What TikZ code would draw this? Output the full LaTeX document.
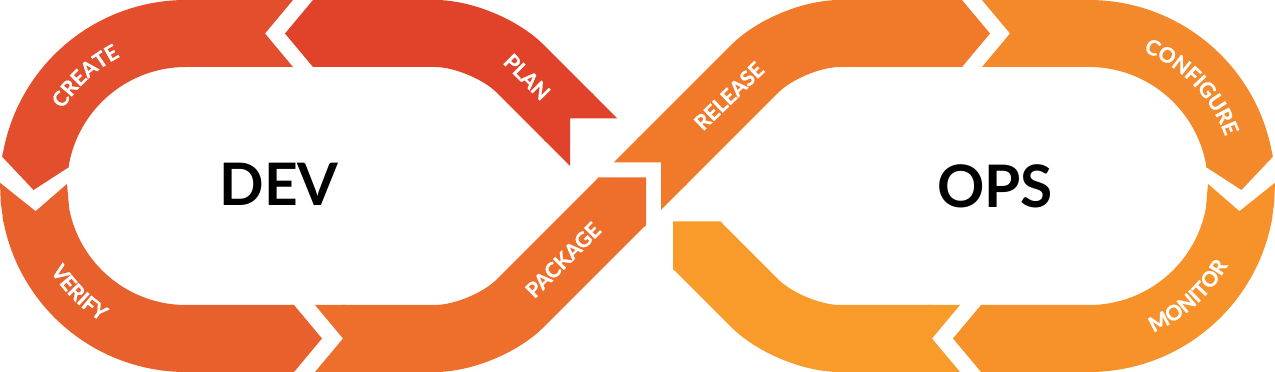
\documentclass[tikz,border=0pt]{standalone}
\usepackage{fontspec}
\setmainfont{Lato}
\newfontfamily\lblfam{Lato}[BoldFeatures={FakeBold=0.8}]
\usetikzlibrary{decorations.text}
\definecolor{cplan}{HTML}{E0432A}
\definecolor{ccreate}{HTML}{E34F2D}
\definecolor{cverify}{HTML}{E8602C}
\definecolor{cpackage}{HTML}{EE6E2B}
\definecolor{crelease}{HTML}{F07A2A}
\definecolor{cconfig}{HTML}{F3892B}
\definecolor{cmonitor}{HTML}{F7922A}
\definecolor{cother}{HTML}{F99B2A}
\newcommand\lblfont{\lblfam\fontsize{21}{21}\selectfont\bfseries\color{white}}
\tikzset{
  band/.style={line width=67pt},
  lbl/.style={text=white, inner sep=0pt, font=\lblfam\fontsize{21}{21}\selectfont\bfseries},
  big/.style={text=black, inner sep=0pt, font=\fontsize{58.6}{60}\selectfont\bfseries},
  curved/.style={decorate, decoration={text along path, text align=center, text={|\lblfont|#1}}}
}
\begin{document}
\begin{tikzpicture}[x=1pt, y=1pt]
\useasboundingbox (0,0) rectangle (1275,372);

% OTHER (unlabeled, bottom right)
\fill[cother] (960,0) -- (932,33.5) -- (960,67) -- (929,67) -- (929,0) -- cycle;
\draw[band, cother, rounded corners=49.7pt] (932,33.5) -- (790,33.5) -- (696.7,126.8);
\fill[cother] (675.1,101) -- (673,103.1) -- (673,150.5) -- (720.4,150.5) -- (722.5,148.4) -- cycle;

% PLAN
\fill[cplan] (570,206.1) -- (570,253.5) -- (617.4,253.5) -- (591.6,279.3) -- (544.2,231.9) -- cycle;
\draw[band, cplan, rounded corners=49.7pt] (570,253.5) -- (485,338.5) -- (313,338.5);
\fill[cplan] (316,372) -- (313,372) -- (285,338.5) -- (313,305) -- (316,305) -- cycle;

% CREATE
\fill[ccreate] (293,305) -- (265,338.5) -- (293,372) -- (262,372) -- (262,305) -- cycle;
\draw[band, ccreate] (265,338.5) -- (186,338.5) arc[start angle=90, end angle=171, radius=152.5];
\fill[ccreate] ([shift={(186,186)}]169.5:186) -- ([shift={(186,186)}]171:186) -- ([shift={(186,186)}]181.5:152.5) -- ([shift={(186,186)}]171:119) -- ([shift={(186,186)}]169.5:119) -- cycle;

% VERIFY
\fill[cverify] ([shift={(186,186)}]179:186) -- ([shift={(186,186)}]189.5:152.5) -- ([shift={(186,186)}]179:119) -- ([shift={(186,186)}]191:119) -- ([shift={(186,186)}]191:186) -- ([shift={(186,186)}]185:186) -- cycle;
\draw[band, cverify] ([shift={(186,186)}]189.5:152.5) arc[start angle=189.5, end angle=270, radius=152.5] -- (294,33.5);
\fill[cverify] (291,0) -- (294,0) -- (322,33.5) -- (294,67) -- (291,67) -- cycle;

% CONFIGURE
\fill[cconfig] (982,372) -- (1010,338.5) -- (982,305) -- (1013,305) -- (1013,372) -- cycle;
\draw[band, cconfig] (1010,338.5) -- (1089,338.5) arc[start angle=90, end angle=9, radius=152.5];
\fill[cconfig] ([shift={(1089,186)}]10.5:186) -- ([shift={(1089,186)}]9:186) -- ([shift={(1089,186)}]-1.5:152.5) -- ([shift={(1089,186)}]9:119) -- ([shift={(1089,186)}]10.5:119) -- cycle;

% MONITOR
\fill[cmonitor] ([shift={(1089,186)}]1:186) -- ([shift={(1089,186)}]-9.5:152.5) -- ([shift={(1089,186)}]1:119) -- ([shift={(1089,186)}]-11:119) -- ([shift={(1089,186)}]-11:186) -- ([shift={(1089,186)}]-5:186) -- cycle;
\draw[band, cmonitor] ([shift={(1089,186)}]-9.5:152.5) arc[start angle=-9.5, end angle=-90, radius=152.5] -- (981,33.5);
\fill[cmonitor] (984,0) -- (981,0) -- (953,33.5) -- (981,67) -- (984,67) -- cycle;

% PACKAGE
\fill[cpackage] (315,0) -- (343,33.5) -- (315,67) -- (346,67) -- (346,0) -- cycle;
\draw[band, cpackage, rounded corners=49.7pt] (343,33.5) -- (485,33.5) -- (622.3,170.8);
\fill[cpackage] (596.5,192.4) -- (598.6,194.5) -- (646,194.5) -- (646,147.1) -- (643.9,145) -- cycle;

% RELEASE
\fill[crelease] (613.6,209.5) -- (661,209.5) -- (661,162.1) -- (686.8,187.9) -- (639.4,235.3) -- cycle;
\draw[band, crelease, rounded corners=49.7pt] (661,209.5) -- (790,338.5) -- (962,338.5);
\fill[crelease] (959,372) -- (962,372) -- (990,338.5) -- (962,305) -- (959,305) -- cycle;

% labels
\node[big] (dev) at (279,188) {DEV};
\node[big] (ops) at (995,185.5) {OPS};
\node[lbl, rotate=-45] (plan) at (527,295) {PLAN};
\node[lbl, rotate=45] (package) at (563,112) {PACKAGE};
\node[lbl, rotate=44] (release) at (729,276) {RELEASE};
\path[curved=CREATE] ([shift={(186,186)}]172:145) arc[start angle=172, end angle=93, radius=145];
\path[curved=VERIFY] ([shift={(186,186)}]188:160) arc[start angle=188, end angle=262, radius=160];
\path[curved=CONFIGURE] ([shift={(1089,186)}]87:145) arc[start angle=87, end angle=1, radius=145];
\path[curved=MONITOR] ([shift={(1089,186)}]-88:160) arc[start angle=-88, end angle=-8, radius=160];
\end{tikzpicture}
\end{document}
